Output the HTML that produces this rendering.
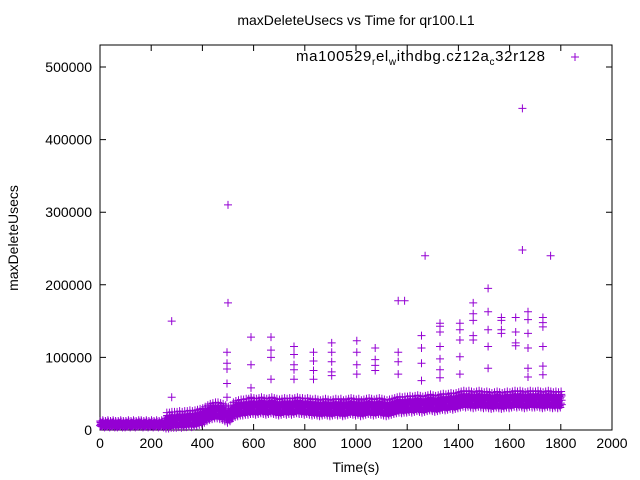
<!DOCTYPE html>
<html><head><meta charset="utf-8"><style>
body{margin:0;background:#fff}
svg{display:block;font-family:"Liberation Sans",sans-serif}
</style></head><body>
<svg id="chart" width="640" height="480" viewBox="0 0 640 480">
<text x="356" y="25" font-size="14" text-anchor="middle">maxDeleteUsecs vs Time for qr100.L1</text>
<text transform="translate(18,238) rotate(-90)" font-size="14" text-anchor="middle">maxDeleteUsecs</text>
<text x="356" y="472" font-size="14" text-anchor="middle">Time(s)</text>
<g id="axes"></g>
<g id="marks"></g>
<g>
<text x="296" y="61" font-size="15" textLength="249" lengthAdjust="spacing">ma100529<tspan font-size="10" dy="4">r</tspan><tspan dy="-4">el</tspan><tspan font-size="10" dy="4">w</tspan><tspan dy="-4">ithdbg.cz12a</tspan><tspan font-size="10" dy="4">c</tspan><tspan dy="-4">32r128</tspan></text>
<path d="M571 57h8M575 53v8" stroke="#9400d3" stroke-width="1"/>
</g>
</svg>
<script>
const xTicks=[0,200,400,600,800,1000,1200,1400,1600,1800,2000];
const yTicks=[0,100000,200000,300000,400000,500000];
// band values (thousands) every 10s from 0 to 1800
const bandTimeStep=10;
const bandValues=[6,7,6,7,6,7,6,6,7,6, 6,7,6,7,6,7,7,6,7,6, 7,6,7,6,7,6,8,8,9,9,
9,10,9,10,10,11,10,11,12,13, 14,16,18,20,21,22,22,21,20,18, 16,18,22,24,25,26,26,27,27,28,
28,27,28,29,28,27,28,29,28,27, 26,27,28,27,28,27,28,29,28,28, 27,28,27,26,27,26,25,26,27,26,
25,26,27,26,27,25,26,27,28,27, 26,27,25,26,27,28,27,26,27,28, 27,26,25,26,27,28,29,30,29,30,
30,31,30,31,32,31,30,31,32,33, 32,31,32,33,34,33,34,35,34,35, 36,37,38,37,38,37,36,37,38,37,
36,37,36,35,36,37,36,35,36,37, 36,37,38,37,38,37,36,37,38,37, 37,38,37,36,37,38,37,36,37,36, 37];
const outlierTimes=[280,280,500,500,496,496,496,496,496,590,590,590,590,668,668,668,668,758,758,758,758,758,834,834,834,834,905,905,905,905,905,1003,1003,1003,1003,1075,1075,1075,1075,1165,1165,1165,1165,1190,1256,1256,1256,1256,1270,1328,1328,1328,1328,1328,1328,1328,1406,1406,1406,1406,1406,1458,1458,1458,1458,1458,1516,1516,1516,1516,1516,1568,1568,1568,1568,1624,1624,1624,1624,1650,1650,1672,1672,1672,1672,1672,1672,1730,1730,1730,1730,1730,1730,1760];
const outlierValues=[150,45,310,175,107,92,84,64,45,128,90,58,45,128,110,100,70,115,104,90,83,70,107,95,82,70,120,107,94,80,75,123,107,90,77,113,97,89,82,178,107,94,77,178,130,113,92,68,240,147,143,135,115,98,83,72,147,138,124,101,77,175,160,151,130,124,195,163,138,115,85,155,151,138,133,155,135,120,116,443,248,163,152,133,113,85,73,155,148,142,115,88,76,240];
const X0=100,X1=612,Y0=430,Y1=45;
const xs=t=>X0+t*(X1-X0)/2000;
const ys=v=>Y0-v*363/500000;
const NS="http://www.w3.org/2000/svg";
const axes=document.getElementById('axes'),marks=document.getElementById('marks');
function mk(tag,attrs,parent){const e=document.createElementNS(NS,tag);for(const k in attrs)e.setAttribute(k,attrs[k]);parent.appendChild(e);return e;}
const fr=mk('rect',{x:X0,y:Y1,width:X1-X0,height:Y0-Y1,fill:'none',stroke:'#000','stroke-width':1},axes);


xTicks.forEach(t=>{const x=xs(t);
const l=mk('path',{d:`M${x} ${Y0}v-6M${x} ${Y1}v6`,stroke:'#000'},axes);


const tx=mk('text',{x:x,y:Y0+18,'font-size':14,'text-anchor':'middle'},axes);tx.textContent=t;

});
yTicks.forEach(v=>{const y=ys(v);
const l=mk('path',{d:`M${X0} ${y}h6M${X1} ${y}h-6`,stroke:'#000'},axes);


const tx=mk('text',{x:X0-8,y:y+5,'font-size':14,'text-anchor':'end'},axes);tx.textContent=v;

});
let d='';
function plus(t,v){const x=xs(t),y=ys(v);d+=`M${(x-4).toFixed(1)} ${y.toFixed(1)}h8M${x.toFixed(1)} ${(y-4).toFixed(1)}v8`;}
const offs=[[-3,-4],[0,0],[3,4],[-1,8],[2,12],[4,-2],[-4,6],[1,16],[-2,-6],[3,10]];
bandValues.forEach((v,i)=>{const t=i*bandTimeStep;const s=t>250?1:0.4;offs.forEach(o=>{if(t+o[0]>=0)plus(t+o[0],(v+o[1]*s)*1000);});});
outlierTimes.forEach((t,i)=>plus(t,outlierValues[i]*1000));
const p=mk('path',{d:d,stroke:'#9400d3','stroke-width':1,fill:'none'},marks);


</script>
</body></html>
